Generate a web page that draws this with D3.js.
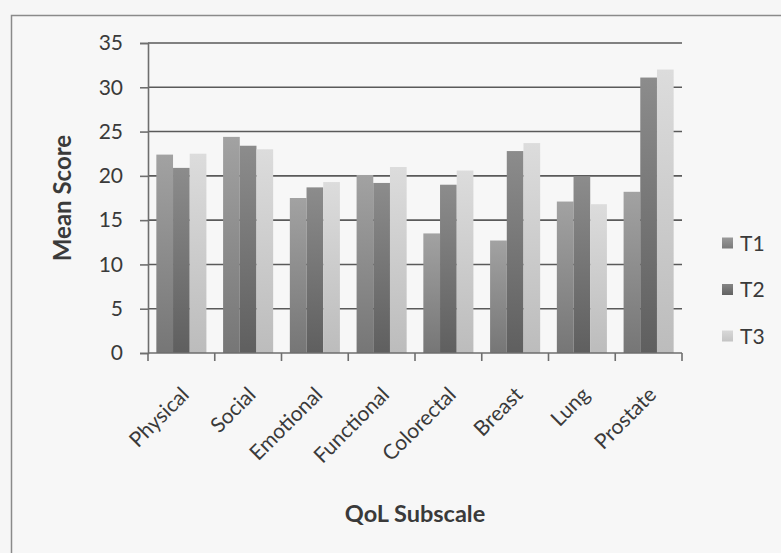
<!DOCTYPE html>
<html>
<head>
<meta charset="utf-8">
<script src="https://cdn.jsdelivr.net/npm/d3@7"></script>
<style>
  html, body { margin: 0; padding: 0; background: #f6f6f6; }
  svg { display: block; }
  text { font-family: Lato, "Open Sans", sans-serif; fill: #3a3a3a; }
</style>
</head>
<body>
<svg id="chart" width="781" height="553"></svg>
<script>
// QoL subscale mean scores at three time points
const categories = ["Physical", "Social", "Emotional", "Functional", "Colorectal", "Breast", "Lung", "Prostate"];
const seriesNames = ["T1", "T2", "T3"];
const t1 = [22.4, 24.4, 17.5, 20.1, 13.5, 12.7, 17.1, 18.2];
const t2 = [20.9, 23.4, 18.7, 19.2, 19.0, 22.8, 19.9, 31.1];
const t3 = [22.5, 23.0, 19.3, 21.0, 20.6, 23.7, 16.8, 32.0];
const yTicks = [0, 5, 10, 15, 20, 25, 30, 35];

const series = [t1, t2, t3];
const svg = d3.select("#chart");

// outer chart frame
svg.append("rect")
  .attr("x", 11.5).attr("y", 15.5)
  .attr("width", 800).attr("height", 600)
  .attr("fill", "#f7f7f7")
  .attr("stroke", "#8a8a8a").attr("stroke-width", 1.5);

const plot = { left: 148, right: 682, top: 43, bottom: 353 };

const x = d3.scaleBand().domain(categories).range([plot.left, plot.right]).paddingInner(0).paddingOuter(0);
const inner = d3.scaleBand().domain(seriesNames).range([0, x.bandwidth()]).paddingInner(0).paddingOuter(0.5);
const y = d3.scaleLinear().domain([0, 35]).range([plot.bottom, plot.top]);

// bar fills: soft vertical gradients
const fills = [
  ["#a2a2a2", "#767676"],
  ["#8c8c8c", "#5f5f5f"],
  ["#dcdcdc", "#bcbcbc"]
];
const defs = svg.append("defs");
fills.forEach((f, i) => {
  const g = defs.append("linearGradient").attr("id", "g" + i)
    .attr("x1", 0).attr("y1", 0).attr("x2", 0).attr("y2", 1);
  g.append("stop").attr("offset", "0%").attr("stop-color", f[0]);
  g.append("stop").attr("offset", "100%").attr("stop-color", f[1]);
});
const lgFills = [
  ["#9a9a9a", "#7a7a7a"],
  ["#858585", "#626262"],
  ["#d8d8d8", "#c4c4c4"]
];
lgFills.forEach((f, i) => {
  const g = defs.append("linearGradient").attr("id", "lg" + i)
    .attr("x1", 0).attr("y1", 0).attr("x2", 0).attr("y2", 1);
  g.append("stop").attr("offset", "0%").attr("stop-color", f[0]);
  g.append("stop").attr("offset", "100%").attr("stop-color", f[1]);
});

// horizontal gridlines
svg.append("g")
  .selectAll("line")
  .data(yTicks.filter(d => d > 0))
  .join("line")
  .attr("x1", plot.left).attr("x2", plot.right)
  .attr("y1", d => y(d)).attr("y2", d => y(d))
  .attr("stroke", "#5a5a5a").attr("stroke-width", 1.6);

// bars
const groups = svg.append("g")
  .selectAll("g")
  .data(categories)
  .join("g")
  .attr("transform", d => `translate(${x(d)},0)`);

groups.selectAll("rect")
  .data((c, ci) => series.map((s, si) => ({ name: seriesNames[si], v: s[ci], si })))
  .join("rect")
  .attr("x", d => inner(d.name))
  .attr("width", inner.bandwidth())
  .attr("y", d => y(d.v))
  .attr("height", d => y(0) - y(d.v))
  .attr("fill", d => `url(#g${d.si})`);

// y axis
const yAxis = d3.axisLeft(y).tickValues(yTicks).tickSize(8).tickPadding(17).tickFormat(d3.format("d"));
const gy = svg.append("g").attr("transform", `translate(${plot.left},0)`).call(yAxis);
gy.select(".domain").attr("stroke", "#6e6e6e").attr("stroke-width", 1.6);
gy.selectAll(".tick line").attr("stroke", "#6e6e6e").attr("stroke-width", 1.6);
gy.selectAll(".tick text").style("font-size", "21px").attr("fill", "#3a3a3a");

// x axis with ticks on category boundaries
const gx = svg.append("g").attr("transform", `translate(0,${plot.bottom})`);
gx.append("line")
  .attr("x1", plot.left).attr("x2", plot.right)
  .attr("stroke", "#6e6e6e").attr("stroke-width", 1.6);
const bounds = categories.map(c => x(c)).concat([x(categories[categories.length - 1]) + x.bandwidth()]);
gx.selectAll("line.tk")
  .data(bounds)
  .join("line").attr("class", "tk")
  .attr("x1", d => d).attr("x2", d => d)
  .attr("y1", 0).attr("y2", 8)
  .attr("stroke", "#6e6e6e").attr("stroke-width", 1.6);

gx.selectAll("text.cat")
  .data(categories)
  .join("text").attr("class", "cat")
  .attr("text-anchor", "end")
  .attr("transform", d => `translate(${x(d) + x.bandwidth() / 2 + 9},${43}) rotate(-45)`)
  .style("font-size", "21px")
  .text(d => d);

// axis titles
svg.append("text")
  .attr("text-anchor", "middle")
  .attr("transform", `translate(${(plot.left + plot.right) / 2},522)`)
  .style("font-size", "23.5px").style("font-weight", "bold")
  .text("QoL Subscale");

svg.append("text")
  .attr("text-anchor", "middle")
  .attr("transform", `translate(71,${(plot.top + plot.bottom) / 2}) rotate(-90)`)
  .style("font-size", "24px").style("font-weight", "bold")
  .text("Mean Score");

// legend
const legend = svg.append("g")
  .selectAll("g")
  .data(seriesNames)
  .join("g")
  .attr("transform", (d, i) => `translate(722,${243 + i * 46.5})`);
legend.append("rect")
  .attr("x", 0).attr("y", -5.5).attr("width", 11).attr("height", 11)
  .attr("fill", (d, i) => `url(#lg${i})`);
legend.append("text")
  .attr("x", 18).attr("y", 7.5)
  .style("font-size", "21px")
  .text(d => d);
</script>
</body>
</html>
